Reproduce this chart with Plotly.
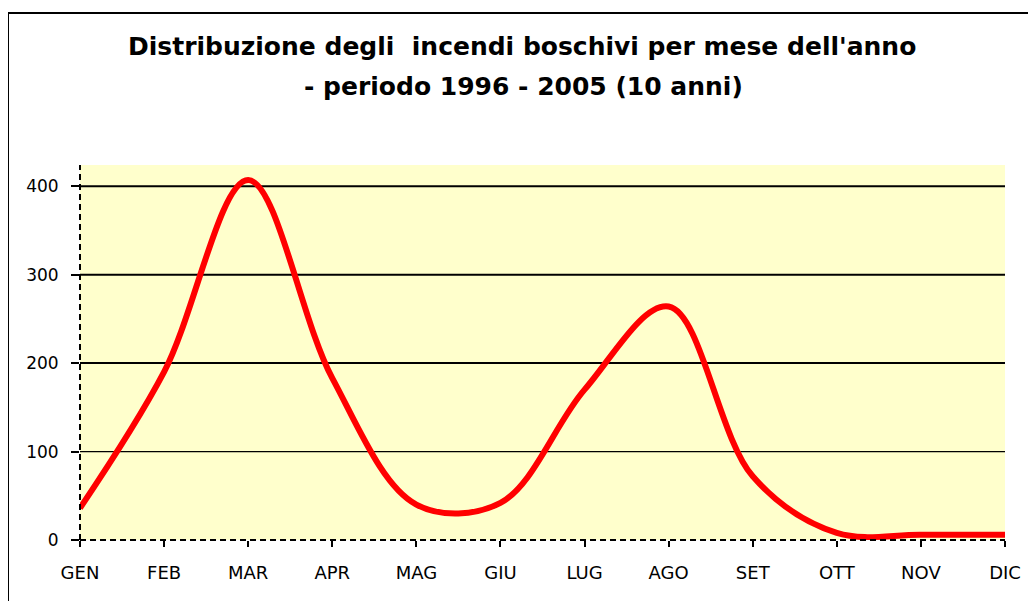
import plotly.graph_objects as go

months = ["GEN", "FEB", "MAR", "APR", "MAG", "GIU", "LUG", "AGO", "SET", "OTT", "NOV", "DIC"]
incendi = [36, 190, 407, 183, 40, 42, 170, 264, 72, 8, 6, 6]
y_ticks = [0, 100, 200, 300, 400]

title_line1 = "Distribuzione degli  incendi boschivi per mese dell'anno"
title_line2 = "- periodo 1996 - 2005 (10 anni)"

# the page body has an 8px default margin: shift everything by it
OFF = 8
W, H = 1036 - OFF, 601 - OFF
# plot area geometry (target pixels in the screenshot)
L, R, T, B = 80 - OFF, 1005 - OFF, 165 - OFF, 540 - OFF
pw, ph = R - L, B - T


def px_x(p):
    return (p - OFF - L) / pw


def px_y(p):
    return (B - (p - OFF)) / ph


fig = go.Figure()
fig.add_trace(go.Scatter(
    x=months, y=incendi, mode="lines",
    line=dict(color="#FF0000", width=6, shape="spline", smoothing=1.0),
    hoverinfo="x+y", showlegend=False, cliponaxis=False,
))

# horizontal gridlines (the first one above zero is thinner in the original)
grid_shapes = []
for i, v in enumerate(y_ticks[1:]):
    grid_shapes.append(dict(
        type="line", xref="paper", yref="y", x0=0, x1=1, y0=v, y1=v, layer="below",
        line=dict(color="black", width=1.2 if i == 0 else 2),
    ))

fig.update_layout(
    width=W, height=H,
    margin=dict(l=L, r=W - R, t=T, b=H - B, pad=0),
    paper_bgcolor="white",
    plot_bgcolor="#FFFFCC",
    font=dict(family="DejaVu Sans", color="black"),
    xaxis=dict(
        type="category", range=[0, 11], showgrid=False, zeroline=False,
        showline=False, ticks="outside", ticklen=6, tickwidth=2, tickcolor="black",
        tickfont=dict(size=18, family="DejaVu Sans"), ticklabelstandoff=10,
    ),
    yaxis=dict(
        range=[0, 424], tickvals=y_ticks, showgrid=False,
        zeroline=False, showline=False, ticks="outside", ticklen=8, tickwidth=2,
        tickcolor="black", tickfont=dict(size=17, family="DejaVu Sans"),
        ticklabelstandoff=9,
    ),
    shapes=grid_shapes + [
        # dashed axis lines
        dict(type="line", xref="paper", yref="paper", x0=0, x1=1, y0=0, y1=0,
             line=dict(color="black", width=2, dash="6px,4px")),
        dict(type="line", xref="paper", yref="paper", x0=0, x1=0, y0=0, y1=1,
             line=dict(color="black", width=2, dash="6px,4px")),
        # outer chart frame
        dict(type="rect", xref="paper", yref="paper",
             x0=px_x(8), x1=px_x(1050), y0=px_y(13), y1=px_y(620),
             line=dict(color="black", width=2), fillcolor="rgba(0,0,0,0)"),
    ],
    annotations=[
        dict(text="<b>" + title_line1 + "</b>", xref="paper", yref="paper",
             x=px_x(522), y=px_y(46), showarrow=False, xanchor="center", yanchor="middle",
             font=dict(family="DejaVu Sans", size=25, color="black")),
        dict(text="<b>" + title_line2 + "</b>", xref="paper", yref="paper",
             x=px_x(523), y=px_y(86), showarrow=False, xanchor="center", yanchor="middle",
             font=dict(family="DejaVu Sans", size=25, color="black")),
    ],
)

fig.write_html("out.html")
